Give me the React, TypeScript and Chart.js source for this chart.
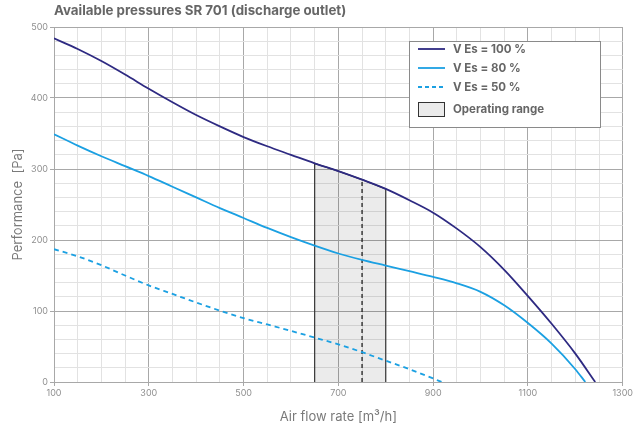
import React, { useEffect, useRef } from "react";
import { Chart, registerables } from "chart.js";

Chart.register(...registerables);

const TITLE = "Available pressures SR 701 (discharge outlet)";
const X_TITLE = "Air flow rate [m³/h]";
const Y_TITLE = "Performance  [Pa]";

const flow100 = [100, 150, 200, 250, 300, 350, 400, 450, 500, 550, 600, 650, 700, 750, 800, 850, 900, 950, 1000, 1050, 1100, 1150, 1200, 1242];
const pres100 = [484, 469, 452, 433, 413, 394, 376, 360, 345, 332, 320, 308, 297, 285, 272, 256, 238.5, 216, 190, 158, 121, 82, 40, 0];

const flow80 = [100, 150, 200, 250, 300, 350, 400, 450, 500, 550, 600, 650, 700, 750, 800, 850, 900, 950, 1000, 1050, 1100, 1150, 1200, 1221];
const pres80 = [349, 333, 318, 304, 290, 275, 260, 245, 231, 217, 204, 192, 181, 172, 164, 156, 148, 139, 127, 108, 83, 54, 18, 0];

const flow50 = [100, 150, 200, 250, 300, 350, 400, 450, 500, 550, 600, 650, 700, 750, 800, 850, 900, 918];
const pres50 = [187, 177, 164.5, 150, 136, 124, 112, 100.5, 90, 81, 72, 62.5, 53, 42, 30, 18, 5, 0];

const rangeFlow = [650, 650, 700, 750, 800, 800];
const rangePres = [0, 308, 297, 285, 272, 0];
const markFlow = [750, 750];
const markPres = [0, 285];

const legendLabels = ["V Es = 100 %", "V Es = 80 %", "V Es = 50 %", "Operating range"];

const NAVY = "#2e2a82";
const BLUE = "#1ba0e2";
const FONT = "Inter, 'Open Sans', sans-serif";

const pts = (xs: number[], ys: number[]) => xs.map((x, i) => ({ x, y: ys[i] }));

const overlay = {
  id: "overlay",
  afterDraw(chart: any) {
    const ctx = chart.ctx;
    ctx.save();
    ctx.fillStyle = "#666";
    ctx.font = `bold 13.3px ${FONT}`;
    ctx.textBaseline = "middle";
    ctx.textAlign = "left";
    ctx.fillText(TITLE, 54, 11);
    const bx = 409.5, by = 41.5, bw = 191, bh = 86;
    ctx.fillStyle = "#fff";
    ctx.fillRect(bx, by, bw, bh);
    ctx.strokeStyle = "#8a8a8a";
    ctx.lineWidth = 1;
    ctx.strokeRect(bx, by, bw, bh);
    const rows = [49, 68, 87];
    const colors = [NAVY, BLUE, BLUE];
    ctx.font = `bold 11.5px ${FONT}`;
    rows.forEach((y, i) => {
      ctx.beginPath();
      ctx.strokeStyle = colors[i];
      ctx.lineWidth = 1.8;
      ctx.setLineDash(i === 2 ? [4, 3] : []);
      ctx.moveTo(418, y);
      ctx.lineTo(445, y);
      ctx.stroke();
      ctx.setLineDash([]);
      ctx.fillStyle = "#666";
      ctx.fillText(legendLabels[i], 453, y + 0.5);
    });
    ctx.fillStyle = "#ebebeb";
    ctx.fillRect(418.5, 102.5, 26, 14);
    ctx.strokeStyle = "#333";
    ctx.lineWidth = 1;
    ctx.strokeRect(418.5, 102.5, 26, 14);
    ctx.fillStyle = "#666";
    ctx.fillText(legendLabels[3], 453, 110);
    ctx.restore();
  },
};

export default function App() {
  const ref = useRef<HTMLCanvasElement>(null);
  useEffect(() => {
    if (!ref.current) return;
    const chart = new Chart(ref.current, {
      type: "line",
      data: {
        datasets: [
          {
            label: legendLabels[0],
            data: pts(flow100, pres100),
            borderColor: NAVY,
            borderWidth: 1.8,
            pointRadius: 0,
            cubicInterpolationMode: "monotone",
            order: 0,
          },
          {
            label: legendLabels[1],
            data: pts(flow80, pres80),
            borderColor: BLUE,
            borderWidth: 1.8,
            pointRadius: 0,
            cubicInterpolationMode: "monotone",
            order: 0,
          },
          {
            label: legendLabels[2],
            data: pts(flow50, pres50),
            borderColor: BLUE,
            borderWidth: 1.8,
            borderDash: [5, 4],
            pointRadius: 0,
            cubicInterpolationMode: "monotone",
            order: 0,
          },
          {
            label: legendLabels[3],
            data: pts(rangeFlow, rangePres),
            borderColor: "#333",
            borderWidth: 1.2,
            backgroundColor: "rgba(0,0,0,0.08)",
            fill: "origin",
            pointRadius: 0,
            tension: 0,
            order: 2,
          },
          {
            label: "mark",
            data: pts(markFlow, markPres),
            borderColor: "#111",
            borderWidth: 1.2,
            borderDash: [4, 3],
            pointRadius: 0,
            tension: 0,
            order: 1,
          },
        ],
      },
      options: {
        animation: false,
        responsive: false,
        maintainAspectRatio: false,
        layout: { padding: { left: 0, right: 12, top: 27, bottom: 0 } },
        plugins: {
          legend: { display: false },
          title: { display: false },
          tooltip: { enabled: false },
        },
        scales: {
          x: {
            type: "linear",
            min: 100,
            max: 1300,
            afterBuildTicks(scale: any) {
              const t = [];
              for (let v = 100; v <= 1300; v += 50) t.push({ value: v });
              scale.ticks = t;
            },
            afterFit(scale: any) {
              scale.height = 43;
            },
            ticks: {
              autoSkip: false,
              maxRotation: 0,
              color: "#8f8f8f",
              font: { family: FONT, size: 9 },
              padding: 2,
              callback: (v: any) => ((v - 100) % 200 === 0 ? String(v) : ""),
            },
            grid: {
              color: (c: any) => ((c.tick?.value - 100) % 200 === 0 ? "#a8a8a8" : "#e2e2e2"),
              tickColor: (c: any) => ((c.tick?.value - 100) % 200 === 0 ? "#a8a8a8" : "rgba(0,0,0,0)"),
              tickLength: 4,
              lineWidth: 1,
            },
            border: { color: "#a8a8a8" },
            title: {
              display: true,
              text: X_TITLE,
              color: "#7a7a7a",
              font: { family: FONT, size: 13 },
              padding: { top: 2, bottom: 0 },
            },
          },
          y: {
            min: 0,
            max: 500,
            afterBuildTicks(scale: any) {
              const t = [];
              for (let v = 0; v <= 500; v += 20) t.push({ value: v });
              scale.ticks = t;
            },
            afterFit(scale: any) {
              scale.width = 54;
            },
            ticks: {
              autoSkip: false,
              color: "#8f8f8f",
              font: { family: FONT, size: 9 },
              padding: 2,
              callback: (v: any) => (v % 100 === 0 ? String(v) : ""),
            },
            grid: {
              color: (c: any) => (c.tick?.value % 100 === 0 ? "#a8a8a8" : "#e2e2e2"),
              tickColor: (c: any) => (c.tick?.value % 100 === 0 ? "#a8a8a8" : "rgba(0,0,0,0)"),
              tickLength: 4,
              lineWidth: 1,
            },
            border: { color: "#a8a8a8" },
            title: {
              display: true,
              text: Y_TITLE,
              color: "#7a7a7a",
              font: { family: FONT, size: 13 },
              padding: { top: 10, bottom: 0 },
            },
          },
        },
      },
      plugins: [overlay],
    } as any);
    return () => chart.destroy();
  }, []);
  return (
    <div style={{ position: "fixed", left: 0, top: 0, width: 635, height: 425, background: "#fff" }}>
      <canvas ref={ref} width={635} height={425} style={{ width: 635, height: 425 }} />
    </div>
  );
}
